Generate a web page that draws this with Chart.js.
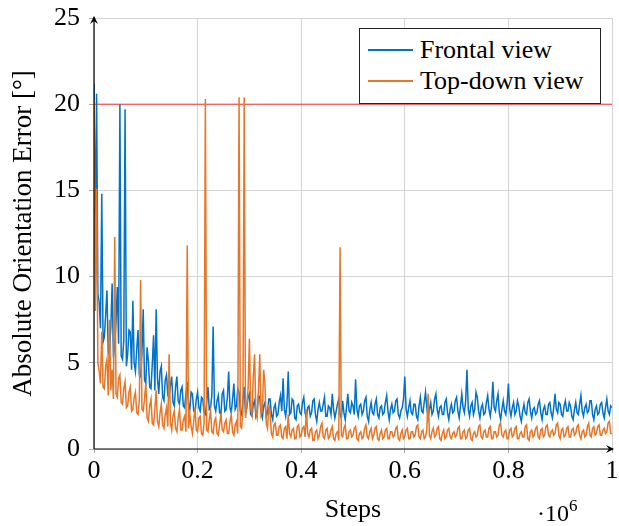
<!DOCTYPE html>
<html>
<head>
<meta charset="utf-8">
<script src="https://cdn.jsdelivr.net/npm/chart.js@4"></script>
<style>
  html, body { margin:0; padding:0; background:#fff; }
  #wrap { position:relative; width:619px; height:526px; }
  #legend { position:absolute; left:359px; top:28px; width:240px; height:74px; border:1px solid #222; background:#fff;
            font-family:'Liberation Serif', serif; font-size:26px; color:#000; box-sizing:content-box; }
  .item { position:absolute; left:0; height:30px; line-height:30px; }
  .item span.ln { position:absolute; left:8px; top:14px; width:45px; height:2px; }
  .item span.tx { position:absolute; left:60px; top:0; white-space:nowrap; }
  #expo { position:absolute; left:537px; top:497px; font-family:'Liberation Serif', serif; font-size:24px; color:#000; white-space:nowrap; }
  #expo sup { font-size:17px; position:relative; top:-1px; }
</style>
</head>
<body>
<div id="wrap">
  <canvas id="c" width="619" height="526"></canvas>
  <div id="legend">
    <div class="item" style="top:6px"><span class="ln" style="background:rgb(0,114,201)"></span><span class="tx">Frontal view</span></div>
    <div class="item" style="top:37px"><span class="ln" style="background:rgb(230,118,40)"></span><span class="tx">Top-down view</span></div>
  </div>
  <div id="expo">·10<sup>6</sup></div>
</div>
<script>
const stepSize = 2500;
const seriesNames = ['Frontal view', 'Top-down view'];
const threshold = 20;
const xTickLabels = ['0', '0.2', '0.4', '0.6', '0.8', '1'];
const yTickLabels = ['0', '5', '10', '15', '20', '25'];

const frontal = [
21.2, 12.0, 20.6, 9.0, 8.5, 7.0, 14.8, 6.2, 6.5, 7.8, 9.2, 5.6, 5.8, 7.1, 9.6, 5.3, 6.0, 7.4, 9.4, 6.1,
20.0, 5.4, 5.2, 6.3, 19.7, 4.8, 5.5, 6.9, 6.8, 4.6, 8.6, 5.0, 4.5, 5.8, 6.9, 4.3, 4.2, 5.5, 8.1, 4.0,
3.8, 5.9, 5.1, 3.6, 3.5, 4.9, 6.6, 3.4, 8.1, 4.1, 3.2, 4.5, 4.8, 3.0, 2.8, 4.0, 4.3, 3.1, 3.0, 3.7,
4.2, 2.7, 2.5, 3.6, 4.2, 2.8, 2.6, 3.4, 3.6, 2.5, 2.4, 3.2, 3.9, 2.6, 2.3, 3.3, 3.2, 2.2, 2.1, 2.9,
3.3, 2.4, 2.2, 3.0, 2.9, 2.1, 2.0, 2.7, 3.6, 2.3, 2.4, 3.1, 7.1, 2.5, 2.2, 2.8, 3.1, 2.1, 2.0, 3.2,
3.4, 2.2, 2.3, 3.0, 4.5, 2.4, 2.1, 2.9, 3.8, 2.3, 2.5, 3.5, 3.3, 2.2, 2.0, 2.8, 3.6, 2.1, 2.4, 3.0,
3.2, 2.0, 1.9, 2.6, 2.8, 1.9, 2.2, 3.1, 3.0, 2.1, 1.8, 2.5, 2.7, 1.9, 2.1, 2.9, 2.9, 2.0, 1.7, 2.4,
2.6, 1.9, 2.0, 2.7, 3.1, 2.2, 4.1, 2.3, 1.9, 2.6, 4.5, 2.0, 2.1, 2.9, 2.8, 1.8, 1.7, 2.5, 2.6, 2.1,
2.0, 2.7, 3.0, 2.1, 1.8, 2.4, 2.5, 1.9, 2.1, 2.8, 2.9, 2.0, 1.6, 2.3, 2.7, 2.2, 2.2, 2.6, 3.0, 1.9,
1.9, 2.5, 2.4, 2.0, 3.2, 2.3, 1.8, 2.2, 2.6, 2.9, 2.0, 1.8, 2.8, 2.1, 1.7, 2.4, 3.2, 2.2, 2.1, 2.7,
2.5, 2.0, 4.05, 2.3, 1.9, 2.5, 2.6, 2.0, 2.2, 2.8, 3.0, 1.9, 1.6, 2.3, 2.7, 2.1, 2.0, 2.6, 2.9, 2.0,
1.8, 2.4, 2.5, 2.0, 2.1, 2.7, 3.1, 2.2, 1.7, 2.3, 2.6, 2.1, 2.2, 2.8, 2.9, 2.0, 1.8, 2.2, 2.4, 2.9,
4.2, 2.3, 1.9, 2.4, 2.8, 2.1, 2.0, 2.6, 2.6, 1.9, 1.7, 2.5, 3.0, 2.2, 2.1, 2.7, 3.3, 2.4, 1.8, 2.3,
2.7, 2.0, 2.2, 2.9, 3.2, 2.3, 1.9, 2.4, 2.5, 2.0, 2.0, 2.7, 2.9, 2.1, 1.7, 2.3, 2.6, 2.1, 2.2, 2.8,
3.0, 2.2, 1.8, 2.5, 3.2, 2.4, 2.1, 2.8, 4.6, 2.3, 1.9, 2.5, 2.7, 2.0, 2.3, 3.3, 3.0, 2.2, 1.8, 2.4,
2.6, 2.0, 2.1, 2.7, 3.1, 2.3, 1.9, 2.5, 3.9, 2.4, 2.2, 2.8, 3.2, 2.1, 1.7, 2.3, 2.8, 2.2, 2.0, 2.6,
3.8, 2.3, 1.9, 2.4, 2.7, 2.0, 2.2, 2.8, 2.5, 1.9, 1.6, 2.2, 2.6, 2.1, 2.0, 2.7, 2.9, 2.2, 1.8, 2.3,
2.4, 2.0, 2.1, 2.6, 2.8, 2.1, 1.7, 2.3, 2.5, 2.0, 2.0, 2.6, 2.7, 2.1, 1.8, 2.4, 3.2, 2.3, 2.1, 2.7,
2.6, 2.0, 1.9, 2.5, 2.8, 2.2, 2.2, 2.7, 2.5, 1.9, 1.7, 2.3, 2.7, 2.1, 2.0, 2.6, 3.1, 2.2, 1.9, 2.4,
2.6, 2.1, 2.2, 2.8, 2.8, 2.0, 1.7, 2.3, 2.5, 2.0, 2.1, 2.6, 2.7, 2.1, 1.8, 2.4, 2.9, 2.2, 2.0, 2.5,
2.4
];

const topdown = [
20.3, 8.0, 15.1, 5.0, 4.5, 3.8, 6.8, 3.6, 3.5, 4.8, 5.2, 3.1, 7.5, 3.4, 4.6, 2.9, 12.3, 3.2, 3.0, 4.1,
4.3, 2.7, 2.6, 3.5, 3.9, 2.4, 2.5, 3.3, 3.6, 2.2, 2.3, 3.0, 3.3, 2.1, 2.0, 2.8, 9.8, 2.3, 2.2, 2.9,
3.8, 1.8, 1.6, 2.5, 2.9, 1.5, 1.4, 2.3, 3.4, 1.6, 1.3, 2.1, 2.6, 1.4, 1.2, 2.0, 2.4, 1.3, 5.5, 1.5,
1.1, 1.9, 2.2, 1.2, 1.0, 1.8, 2.3, 1.1, 1.1, 1.7, 1.9, 1.0, 11.8, 1.2, 2.0, 1.3, 0.9, 1.6, 2.4, 1.1,
1.0, 1.8, 1.9, 0.9, 0.8, 1.5, 20.3, 1.1, 1.0, 1.7, 2.2, 1.0, 0.9, 1.6, 1.8, 0.9, 0.8, 1.4, 2.1, 1.1,
1.0, 1.5, 1.7, 0.9, 0.9, 1.6, 2.0, 1.0, 0.8, 1.4, 1.6, 0.9, 20.4, 1.3, 1.2, 2.2, 20.4, 1.8, 2.5, 3.5,
6.4, 2.4, 2.0, 4.2, 5.5, 2.1, 1.8, 3.4, 5.5, 2.0, 2.3, 4.6, 3.8, 1.5, 1.2, 2.6, 2.0, 0.9, 0.7, 1.4,
1.5, 0.8, 0.8, 1.3, 1.4, 0.7, 0.6, 1.2, 1.3, 0.6, 2.0, 0.9, 0.7, 1.1, 1.2, 0.6, 0.6, 1.3, 1.4, 0.7,
0.8, 1.2, 1.3, 0.7, 2.3, 0.9, 0.7, 1.1, 1.2, 0.5, 0.5, 1.0, 1.1, 0.6, 0.8, 1.3, 1.5, 0.7, 0.6, 1.1,
1.2, 0.6, 0.7, 1.1, 1.3, 0.6, 0.5, 0.9, 1.0, 0.5, 11.7, 0.8, 0.7, 1.2, 1.4, 0.6, 0.6, 1.0, 1.1, 0.7,
0.8, 1.2, 1.3, 0.6, 0.5, 0.9, 1.0, 0.6, 0.7, 1.2, 1.4, 0.7, 0.6, 1.0, 1.2, 0.6, 0.8, 1.2, 1.3, 0.6,
0.5, 0.9, 1.1, 0.6, 0.7, 1.1, 1.2, 0.6, 0.6, 1.0, 1.0, 0.7, 0.8, 1.2, 1.3, 0.6, 0.5, 0.9, 1.1, 0.6,
0.7, 1.1, 1.2, 0.6, 0.6, 1.0, 1.0, 0.7, 0.8, 1.3, 1.4, 0.7, 0.6, 1.0, 1.1, 0.6, 0.7, 1.1, 3.2, 0.8,
0.6, 1.0, 1.2, 0.7, 0.8, 1.2, 1.3, 0.6, 0.5, 0.9, 1.1, 0.6, 0.7, 1.1, 1.2, 0.7, 0.6, 0.9, 1.0, 0.7,
0.8, 1.2, 1.3, 0.6, 0.6, 1.0, 1.1, 0.6, 0.7, 1.1, 1.2, 0.6, 0.5, 0.9, 1.0, 0.7, 0.8, 1.3, 1.4, 0.7,
0.6, 1.0, 1.1, 0.7, 0.7, 1.2, 1.3, 0.6, 0.6, 1.0, 1.0, 0.7, 0.8, 1.4, 1.5, 0.8, 0.7, 1.0, 1.1, 0.6,
0.6, 1.1, 1.2, 0.7, 0.8, 1.2, 1.3, 0.6, 0.6, 0.9, 1.0, 0.7, 0.7, 1.3, 1.4, 0.6, 0.5, 1.0, 1.1, 0.7,
0.8, 1.2, 1.3, 0.7, 0.6, 1.1, 1.2, 0.7, 0.8, 1.3, 1.4, 0.8, 0.7, 1.0, 1.1, 0.8, 0.9, 1.4, 1.5, 0.8,
0.6, 1.1, 1.2, 0.7, 0.8, 1.2, 1.3, 0.7, 0.7, 1.1, 1.2, 0.8, 0.9, 1.3, 1.4, 0.8, 0.6, 1.0, 1.1, 0.7,
0.8, 1.3, 1.5, 0.8, 0.7, 1.2, 1.3, 0.8, 0.9, 1.3, 1.4, 0.8, 0.8, 1.1, 1.2, 0.9, 1.0, 1.5, 1.6, 0.9,
0.9
];

const toPoints = arr => arr.map((v, i) => ({ x: i * stepSize, y: v }));
const xMax = 1000000;
const font = { family: 'Liberation Serif', size: 26 };

const axesPlugin = {
  id: 'axesArrows',
  afterDatasetsDraw(chart) {
    const { ctx, chartArea: a } = chart;
    ctx.save();
    ctx.strokeStyle = '#000';
    ctx.fillStyle = '#000';
    ctx.lineWidth = 1.2;
    ctx.beginPath();
    ctx.moveTo(a.left, a.bottom);
    ctx.lineTo(a.left, a.top - 1);
    ctx.moveTo(a.left, a.bottom);
    ctx.lineTo(a.right + 1, a.bottom);
    ctx.stroke();
    ctx.beginPath();
    ctx.moveTo(a.left, a.top - 2);
    ctx.lineTo(a.left - 4, a.top + 6);
    ctx.lineTo(a.left, a.top + 3);
    ctx.lineTo(a.left + 4, a.top + 6);
    ctx.closePath();
    ctx.fill();
    ctx.beginPath();
    ctx.moveTo(a.right + 2, a.bottom);
    ctx.lineTo(a.right - 6, a.bottom - 4);
    ctx.lineTo(a.right - 3, a.bottom);
    ctx.lineTo(a.right - 6, a.bottom + 4);
    ctx.closePath();
    ctx.fill();
    ctx.restore();
  }
};

new Chart(document.getElementById('c'), {
  type: 'line',
  data: {
    datasets: [
      { label: seriesNames[0], data: toPoints(frontal), borderColor: 'rgb(0,114,201)', borderWidth: 1.5, pointRadius: 0, order: 2, tension: 0 },
      { label: seriesNames[1], data: toPoints(topdown), borderColor: 'rgb(230,118,40)', borderWidth: 1.5, pointRadius: 0, order: 1, tension: 0 },
      { label: 'threshold', data: [{ x: 0, y: threshold }, { x: xMax, y: threshold }], borderColor: 'rgb(255,50,50)', borderWidth: 1, pointRadius: 0, order: 3 }
    ]
  },
  options: {
    responsive: false,
    animation: false,
    events: [],
    layout: { padding: { top: 18, right: 7, left: 0, bottom: 0 } },
    plugins: { legend: { display: false }, tooltip: { enabled: false } },
    scales: {
      x: {
        type: 'linear', min: 0, max: xMax,
        border: { display: false },
        grid: { color: '#d4d4d4', lineWidth: 1, drawTicks: true, tickLength: 4, tickColor: '#aaa' },
        ticks: { stepSize: 200000, padding: 3, color: '#000', maxRotation: 0, font,
                 callback: (v, i) => xTickLabels[i] },
        title: { display: true, text: 'Steps', color: '#000', font, padding: 0 },
        afterFit: s => { s.height = 77; s.paddingLeft = 0; s.paddingRight = 0; }
      },
      y: {
        min: 0, max: 25,
        border: { display: false },
        grid: { color: '#d4d4d4', lineWidth: 1, drawTicks: true, tickLength: 5, tickColor: '#aaa' },
        ticks: { stepSize: 5, padding: 9, color: '#000', font,
                 callback: (v, i) => yTickLabels[i] },
        title: { display: true, text: 'Absolute Orientation Error [°]', color: '#000', font: { family: 'Liberation Serif', size: 27 }, padding: 8 },
        afterFit: s => { s.width = 94; s.paddingTop = 0; s.paddingBottom = 0; }
      }
    }
  },
  plugins: [axesPlugin]
});
</script>
</body>
</html>
